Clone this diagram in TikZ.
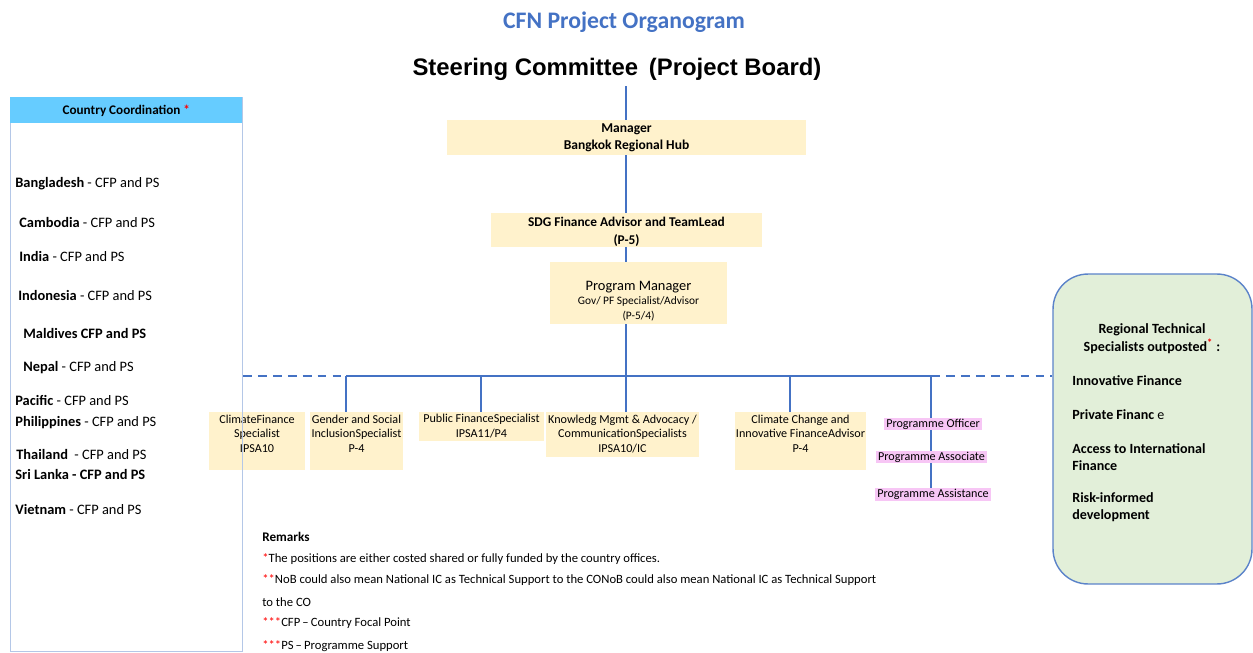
\documentclass[tikz,border=0pt]{standalone}
\usepackage{fontspec}
\setmainfont{Carlito}
\newfontfamily\arialf{Liberation Sans}
\usetikzlibrary{backgrounds}
\definecolor{lineblue}{HTML}{4472C4}
\definecolor{boxy}{HTML}{FFF2CC}
\definecolor{pinkbg}{HTML}{F7C6F5}
\definecolor{ccblue}{HTML}{66CCFF}
\definecolor{ccborder}{HTML}{B4C7E7}
\definecolor{rtsgreen}{HTML}{E2EFD9}
\definecolor{rtsborder}{HTML}{5B83C9}
\begin{document}
\begin{tikzpicture}[x=0.02cm,y=-0.02cm,ln/.style={draw=lineblue,line width=1.1pt},dl/.style={ln,dash pattern=on 5pt off 3.5pt},box/.style={fill=boxy,align=center,anchor=north,inner sep=0.02cm,font=\fontsize{6.9}{8.2}\selectfont},pink/.style={fill=pinkbg,inner xsep=0.04cm,inner ysep=0.02cm,font=\fontsize{6.9}{8.2}\selectfont},ctry/.style={anchor=west,inner sep=0,font=\fontsize{8.2}{9.8}\selectfont},rmk/.style={anchor=west,inner sep=0,font=\fontsize{7.2}{8.6}\selectfont},spec/.style={anchor=west,align=left,inner sep=0,font=\bfseries\fontsize{8}{9.6}\selectfont}]
\useasboundingbox (0,0) rectangle (1253,652);
\node[font=\bfseries\fontsize{13.5}{16}\selectfont,text=lineblue] (title) at (624,22) {CFN Project Organogram};
\node[font=\arialf\bfseries\fontsize{13.6}{16}\selectfont] (sc) at (617,69) {Steering Committee \,(Project Board)};
\node[box,anchor=center,minimum width=7.18cm,minimum height=0.7cm,font=\bfseries\fontsize{7.7}{9.6}\selectfont] (mgr) at (626.5,137.5) {Manager\\Bangkok Regional Hub};
\node[box,minimum width=5.42cm,text height=0.6cm,text depth=0.04cm,font=\bfseries\fontsize{7.6}{10.2}\selectfont] (sdg) at (626.5,213) {SDG Finance Advisor and TeamLead\\(P-5)};
\node[box,minimum width=3.54cm,text height=1.12cm,text depth=0.08cm,font=\fontsize{6.5}{8.3}\selectfont] (pm) at (638.5,262) {{\fontsize{8.2}{9}\selectfont Program Manager}\\Gov/ PF Specialist/Advisor\\(P-5/4)};
\node[box,minimum width=1.92cm,text height=0.78cm,text depth=0.34cm] (cfs) at (257,412) {ClimateFinance\\Specialist\\IPSA10};
\node[box,minimum width=1.86cm,text height=0.78cm,text depth=0.34cm] (gsi) at (356.5,412) {Gender and Social\\InclusionSpecialist\\P-4};
\node[box,minimum width=2.5cm,text height=0.48cm,text depth=0.06cm] (pfs) at (481.5,412) {Public FinanceSpecialist\\IPSA11/P4};
\node[box,minimum width=3.06cm,text height=0.78cm,text depth=0.08cm] (kma) at (622.5,412) {Knowledg Mgmt \& Advocacy /\\CommunicationSpecialists\\IPSA10/IC};
\node[box,minimum width=2.62cm,text height=0.78cm,text depth=0.34cm] (cci) at (800.5,412) {Climate Change and\\Innovative FinanceAdvisor\\P-4};
\node[pink] (po) at (933,424) {Programme Officer};
\node[pink] (pa) at (931.5,457) {Programme Associate};
\node[pink] (pas) at (933,494.5) {Programme Assistance};
\node[draw=ccborder,line width=0.6pt,minimum width=4.64cm,minimum height=11.08cm,anchor=north west,inner sep=0] (cc) at (10,97) {};
\node[fill=ccblue,minimum width=4.64cm,minimum height=0.52cm,anchor=north west,inner sep=0,font=\bfseries\fontsize{7.5}{9}\selectfont] (cch) at (10,97) {Country Coordination {\color{red}*}};
\node[ctry] (bgd) at (15,184) {\textbf{Bangladesh} - CFP and PS};
\node[ctry] (khm) at (19,222) {\textbf{Cambodia} - CFP and PS};
\node[ctry] (ind) at (19,256) {\textbf{India} - CFP and PS};
\node[ctry] (idn) at (18,295) {\textbf{Indonesia} - CFP and PS};
\node[ctry] (mdv) at (23,333) {\textbf{Maldives CFP and PS}};
\node[ctry] (npl) at (23,368) {\textbf{Nepal} - CFP and PS};
\node[ctry] (pac) at (15,400) {\textbf{Pacific} - CFP and PS};
\node[ctry] (phl) at (15,423) {\textbf{Philippines} - CFP and PS};
\node[ctry] (tha) at (16,454) {\textbf{Thailand}~ - CFP and PS};
\node[ctry] (lka) at (15,474) {\textbf{Sri Lanka - CFP and PS}};
\node[ctry] (vnm) at (15,509) {\textbf{Vietnam} - CFP and PS};
\node[draw=rtsborder,fill=rtsgreen,rounded corners=0.7cm,line width=0.8pt,minimum width=3.98cm,minimum height=6.2cm,inner sep=0] (rts) at (1152.5,429) {};
\node[align=center,inner sep=0,font=\bfseries\fontsize{8}{10.2}\selectfont] (rtsh) at (1152,339) {Regional Technical\\Specialists outposted\textsuperscript{\color{red}*} :};
\node[spec] (ifin) at (1072,381) {Innovative Finance};
\node[spec] (pfin) at (1072,415) {Private Financ {\mdseries e}};
\node[spec] (aif) at (1072,457) {Access to International\\Finance};
\node[spec] (rid) at (1072,507) {Risk-informed\\development};
\node[rmk,font=\bfseries\fontsize{7.5}{9}\selectfont] (rmh) at (262,537) {Remarks};
\node[rmk] (r1) at (262,559) {{\color{red}*}The positions are either costed shared or fully funded by the country offices.};
\node[rmk] (r2) at (262,580) {{\color{red}**}NoB could also mean National IC as Technical Support to the CONoB could also mean National IC as Technical Support};
\node[rmk] (r3) at (262,602) {to the CO};
\node[rmk] (r4) at (262,623) {{\color{red}***}CFP\,--\,Country Focal Point};
\node[rmk] (r5) at (262,646) {{\color{red}***}PS\,--\,Programme Support};
\coordinate (hub) at (626,376); \coordinate (b1) at (346,376); \coordinate (b2) at (481,376);
\coordinate (b4) at (790,376); \coordinate (b5) at (931,376);
\begin{scope}[on background layer]
\draw[ln] (sc.south -| hub)--(hub |- kma.north);
\draw[ln] (b1)--(b5)--(b5 |- pas.north);
\draw[ln] (b1)--(b1 |- gsi.north); \draw[ln] (b2)--(b2 |- pfs.north); \draw[ln] (b4)--(b4 |- cci.north);
\draw[dl] (cc.east |- b1)--(b1); \draw[dl] (b5)--(rts.west |- b5);
\end{scope}
\end{tikzpicture}
\end{document}
